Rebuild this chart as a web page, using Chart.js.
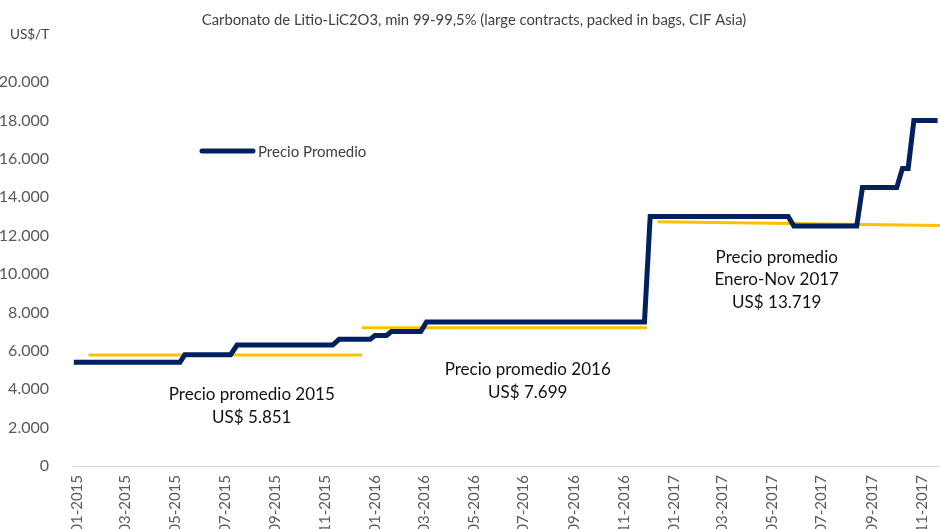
<!DOCTYPE html>
<html>
<head>
<meta charset="utf-8">
<script src="https://cdn.jsdelivr.net/npm/chart.js@4.4.0/dist/chart.umd.min.js"></script>
<style>
  html, body { margin: 0; padding: 0; background: #fff; }
</style>
</head>
<body>
<canvas id="chartPrecio" width="940" height="529"></canvas>
<script>
const chartTitle = "Carbonato de Litio-LiC2O3, min 99-99,5% (large contracts, packed in bags, CIF Asia)";
const unitLabel = "US$/T";
const seriesName = "Precio Promedio";

// vertices of the price line
const priceDates = [
    "2014-12-28", "2015-05-07", "2015-05-13", "2015-07-08", "2015-07-16",
    "2015-11-10", "2015-11-18", "2015-12-26", "2016-01-01", "2016-01-15",
    "2016-01-21", "2016-02-26", "2016-03-04", "2016-11-26", "2016-12-03",
    "2017-05-21", "2017-05-28", "2017-08-13", "2017-08-20", "2017-10-01",
    "2017-10-08", "2017-10-15", "2017-10-22", "2017-11-20"
];
const priceValues = [
    5400, 5400, 5800, 5800, 6300,
    6300, 6600, 6600, 6800, 6800,
    7000, 7000, 7500, 7500, 13000,
    13000, 12500, 12500, 14500, 14500,
    15500, 15500, 18000, 18000
];

// yellow average lines
const avg2015Dates = ["2015-01-15", "2015-12-16"];
const avg2015Values = [5780, 5780];
const avg2016Dates = ["2015-12-16", "2016-11-29"];
const avg2016Values = [7200, 7200];
const avg2017Dates = ["2016-12-12", "2017-11-23"];
const avg2017Values = [12720, 12520];

const tickLabels = [
    "01-2015", "03-2015", "05-2015", "07-2015", "09-2015", "11-2015",
    "01-2016", "03-2016", "05-2016", "07-2016", "09-2016", "11-2016",
    "01-2017", "03-2017", "05-2017", "07-2017", "09-2017", "11-2017"
];

const notes = [
    { date: "2015-08-03", value: 3700, lines: ["Precio promedio 2015", "US$ 5.851"] },
    { date: "2016-07-06", value: 5000, lines: ["Precio promedio 2016", "US$ 7.699"] },
    { date: "2017-05-07", value: 10880, lines: ["Precio promedio", "Enero-Nov 2017", "US$ 13.719"] }
];

const base = Date.UTC(2015, 0, 1);
const toDay = s => (Date.parse(s) - base) / 86400000;
const pts = (dates, vals) => dates.map((d, i) => ({ x: toDay(d), y: vals[i] }));
const tickDays = tickLabels.map(l => {
    const [m, y] = l.split("-").map(Number);
    return (Date.UTC(y, m - 1, 1) - base) / 86400000;
});
const miles = v => String(v).replace(/\B(?=(\d{3})+(?!\d))/g, ".");

const textos = {
    id: "textos",
    afterDraw(chart) {
        const { ctx, scales: { x, y } } = chart;
        ctx.save();
        ctx.fillStyle = "#404040";
        ctx.textBaseline = "middle";

        ctx.font = "14.8px Lato";
        ctx.textAlign = "center";
        ctx.fillText(chartTitle, 474, 20);

        ctx.font = "13.5px Lato";
        ctx.textAlign = "left";
        ctx.fillText(unitLabel, 10, 35);

        // legenda
        ctx.strokeStyle = "#002060";
        ctx.lineWidth = 5;
        ctx.lineCap = "round";
        ctx.beginPath();
        ctx.moveTo(202, 151);
        ctx.lineTo(253, 151);
        ctx.stroke();
        ctx.font = "15px Lato";
        ctx.fillText(seriesName, 258, 152);

        // notas de promedio
        ctx.fillStyle = "#111";
        ctx.font = "17px Lato";
        ctx.textAlign = "center";
        notes.forEach(n => {
            const cx = x.getPixelForValue(toDay(n.date));
            const cy = y.getPixelForValue(n.value);
            n.lines.forEach((t, i) => ctx.fillText(t, cx, cy + i * 22.5));
        });
        ctx.restore();
    }
};

const ctx = document.getElementById("chartPrecio").getContext("2d");
new Chart(ctx, {
    type: "line",
    data: {
        datasets: [
            { label: seriesName, data: pts(priceDates, priceValues), borderColor: "#002060", borderWidth: 5, pointRadius: 0, tension: 0 },
            { label: "2015", data: pts(avg2015Dates, avg2015Values), borderColor: "#FFC000", borderWidth: 3, pointRadius: 0 },
            { label: "2016", data: pts(avg2016Dates, avg2016Values), borderColor: "#FFC000", borderWidth: 3, pointRadius: 0 },
            { label: "2017", data: pts(avg2017Dates, avg2017Values), borderColor: "#FFC000", borderWidth: 3, pointRadius: 0 }
        ]
    },
    options: {
        responsive: false,
        animation: false,
        devicePixelRatio: 1,
        layout: { padding: { top: 82, left: 0, right: 0, bottom: 0 } },
        plugins: { legend: { display: false }, title: { display: false }, tooltip: { enabled: false } },
        scales: {
            x: {
                type: "linear",
                min: -5,
                max: 1057,
                afterBuildTicks: s => { s.ticks = tickDays.map(v => ({ value: v })); },
                afterFit: s => { s.height = 63; s.paddingLeft = 0; s.paddingRight = 0; },
                ticks: {
                    autoSkip: false, maxRotation: 90, minRotation: 90, padding: 9,
                    color: "#595959", font: { family: "Lato", size: 15 },
                    callback: (v, i) => tickLabels[i]
                },
                grid: { drawOnChartArea: false, drawTicks: false },
                border: { color: "#d9d9d9", width: 1 }
            },
            y: {
                min: 0,
                max: 20000,
                afterFit: s => { s.width = 73; s.paddingTop = 0; s.paddingBottom = 0; },
                ticks: {
                    stepSize: 2000, padding: 16,
                    color: "#595959", font: { family: "Lato", size: 16 },
                    callback: v => miles(v)
                },
                grid: { display: false },
                border: { display: false }
            }
        }
    },
    plugins: [textos]
});
</script>
</body>
</html>
